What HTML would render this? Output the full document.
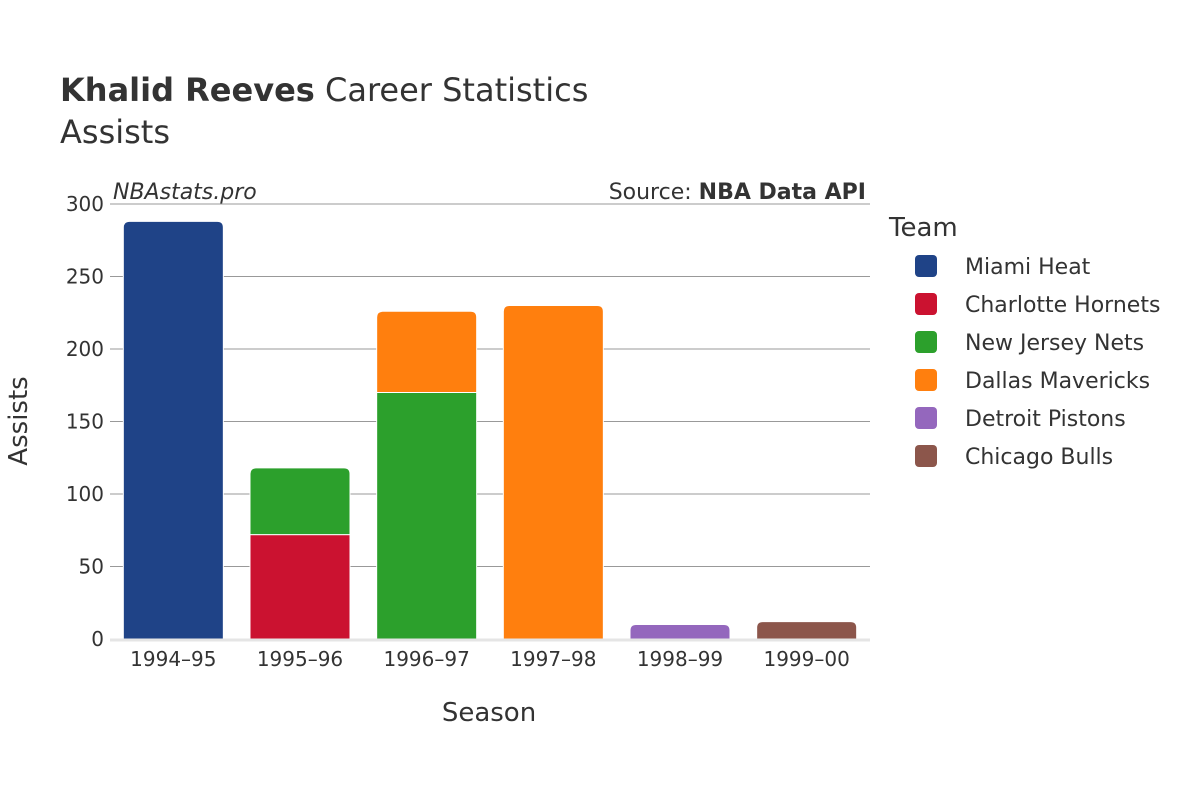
<!DOCTYPE html>
<html><head><meta charset="utf-8"><style>
body{margin:0;background:#fff;}
svg{font-family:"DejaVu Sans","Liberation Sans",sans-serif;}
</style></head><body>
<svg id="chart" width="1200" height="800" xmlns="http://www.w3.org/2000/svg">
<text x="60" y="101" font-size="32" fill="#333"><tspan font-weight="bold">Khalid Reeves</tspan> Career Statistics</text>
<text x="60" y="143" font-size="32" fill="#333">Assists</text>
<g id="grid"></g>
<g id="bars"></g>
<g id="axes"></g>
<text x="113" y="199" font-size="22" font-style="italic" fill="#333">NBAstats.pro</text>
<text x="866" y="199" font-size="22" fill="#333" text-anchor="end">Source: <tspan font-weight="bold">NBA Data API</tspan></text>
<text x="489" y="721" font-size="26" fill="#333" text-anchor="middle">Season</text>
<text transform="translate(27,421) rotate(-90)" font-size="26" fill="#333" text-anchor="middle">Assists</text>
<text x="889" y="236" font-size="26" fill="#333">Team</text>
<g id="legend"></g>
</svg>
<script>
const seasons=["1994–95","1995–96","1996–97","1997–98","1998–99","1999–00"];
const teams=["Miami Heat","Charlotte Hornets","New Jersey Nets","Dallas Mavericks","Detroit Pistons","Chicago Bulls"];
const colors=["#1f4387","#cb1230","#2ca02c","#ff7f0e","#9467bd","#8c564b"];
const miami=[288,0,0,0,0,0];
const charlotte=[0,72,0,0,0,0];
const nets=[0,46,170,0,0,0];
const dallas=[0,0,56,230,0,0];
const detroit=[0,0,0,0,10,0];
const chicago=[0,0,0,0,0,12];
const yTicks=[0,50,100,150,200,250,300];
const series=[miami,charlotte,nets,dallas,detroit,chicago];
const NS="http://www.w3.org/2000/svg";
const x0=110,x1=870,yTop=204,yBot=639,yMax=300;
const y=v=>yBot-(v/yMax)*(yBot-yTop);
const band=(x1-x0)/seasons.length;
const xc=i=>x0+band*(i+0.5);
function mk(t,a,p){const e=document.createElementNS(NS,t);for(const k in a)e.setAttribute(k,a[k]);p.appendChild(e);return e;}
const grid=document.getElementById('grid'),bars=document.getElementById('bars'),axes=document.getElementById('axes'),legend=document.getElementById('legend');
yTicks.forEach(t=>{
  if(t>0){const l=mk('line',{x1:x0,x2:x1,y1:y(t),y2:y(t),stroke:'#999','stroke-width':1},grid);
  
  }
  const tx=mk('text',{x:104,y:y(t)+7,'font-size':20,fill:'#333','text-anchor':'end'},axes);
  tx.textContent=t;
  
  
});
const base=mk('line',{x1:x0,x2:x1,y1:yBot+1,y2:yBot+1,stroke:'#e5e5e5','stroke-width':3},axes);


seasons.forEach((s,i)=>{
  const tx=mk('text',{x:xc(i),y:666,'font-size':20,fill:'#333','text-anchor':'middle'},axes);
  tx.textContent=s;
  
  
  let cum=0;const bw=100,bx=xc(i)-bw/2;
  let lastIdx=-1;series.forEach((ser,k)=>{if(ser[i]>0)lastIdx=k;});
  series.forEach((ser,k)=>{
    const v=ser[i];if(!v)return;
    const yt=y(cum+v),yb=y(cum);const h=yb-yt;const r=(k===lastIdx)?Math.min(6,h):0;
    const d=`M${bx},${yb}L${bx},${yt+r}Q${bx},${yt} ${bx+r},${yt}L${bx+bw-r},${yt}Q${bx+bw},${yt} ${bx+bw},${yt+r}L${bx+bw},${yb}Z`;
    const p=mk('path',{d:d,fill:colors[k],stroke:'#fff','stroke-width':1},bars);
    
    
    cum+=v;
  });
});
teams.forEach((t,k)=>{
  const yy=266+38*k;
  const r=mk('rect',{x:915,y:yy-11,width:22,height:22,rx:4,fill:colors[k]},legend);
  
  
  const tx=mk('text',{x:965,y:yy+8,'font-size':22,fill:'#333'},legend);
  tx.textContent=t;
  
  
});
</script>
</body></html>
